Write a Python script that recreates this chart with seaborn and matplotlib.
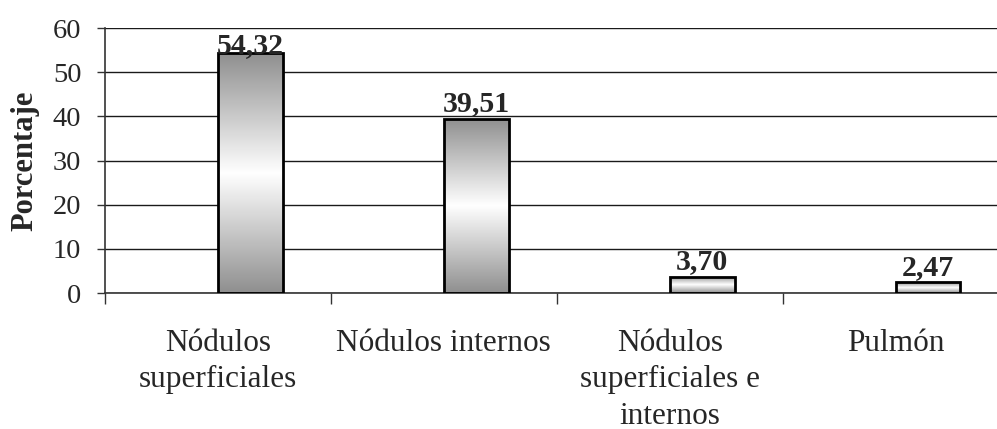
import numpy as np
import pandas as pd
import matplotlib
matplotlib.use("Agg")
import matplotlib.pyplot as plt
from matplotlib.colors import LinearSegmentedColormap
import seaborn as sns

categorias = ["Nódulos\nsuperficiales", "Nódulos internos",
              "Nódulos\nsuperficiales e\ninternos", "Pulmón"]
porcentajes = [54.32, 39.51, 3.70, 2.47]
y_ticks = [0, 10, 20, 30, 40, 50, 60]

sns.set_theme(style="white")
plt.rcParams["font.family"] = ["Liberation Serif", "DejaVu Serif"]

df = pd.DataFrame({"categoria": categorias, "porcentaje": porcentajes,
                   "serie": ["B"] * len(categorias)})

fig = plt.figure(figsize=(9.97, 4.29), dpi=100)
ax = fig.add_axes([0.1053, 0.317, 0.8947, 0.6177])

sns.barplot(data=df, x="categoria", y="porcentaje", hue="serie",
            hue_order=["A", "B"], order=categorias, dodge=True, width=0.574,
            palette={"A": "white", "B": "white"}, edgecolor="black",
            linewidth=2.0, legend=False, ax=ax, zorder=3)

ax.set_ylim(0, 60)
ax.set_xlim(-0.5, 3.449)
ax.set_yticks(y_ticks)
ax.set_yticklabels([str(t) for t in y_ticks], fontsize=20.5)

# gradient fill inside bars
cmap = LinearSegmentedColormap.from_list(
    "g", [(0.0, "#8f8f8f"), (0.5, "#ffffff"), (1.0, "#8f8f8f")])
grad = np.linspace(0, 1, 256).reshape(-1, 1)
bars = [p for p in ax.patches if p.get_height() > 0]
for p in bars:
    x0, y0 = p.get_x(), p.get_y()
    w, h = p.get_width(), p.get_height()
    im = ax.imshow(grad, cmap=cmap, aspect="auto",
                   extent=[x0, x0 + w, y0, y0 + h], zorder=2.5,
                   interpolation="bilinear")
    im.set_clip_path(p)
    p.set_facecolor("none")
ax.set_xlim(-0.5, 3.449)
ax.set_ylim(0, 60)

labels_txt = []
for cont in ax.containers:
    vals = [b.get_height() for b in cont]
    if all(np.isnan(v) or v == 0 for v in vals):
        continue
    labels_txt += ax.bar_label(cont, labels=[f"{v:.2f}".replace(".", ",") for v in vals],
                               padding=1, fontsize=21.5, fontweight="bold", zorder=5)

# grid
ax.grid(axis="y", color="#1a1a1a", linewidth=1.0, zorder=0)
ax.set_axisbelow(True)

# spines
for s in ["top", "right"]:
    ax.spines[s].set_visible(False)
for s in ["left", "bottom"]:
    ax.spines[s].set_color("#333333")
    ax.spines[s].set_linewidth(1.2)

# ticks
ax.tick_params(axis="y", which="major", left=True, length=6, width=1.0,
               color="#333333", pad=11, direction="out")
ax.tick_params(axis="x", which="major", length=0, pad=26, labelsize=22.5)
ax.set_xticks([-0.5, 0.5, 1.5, 2.5], minor=True)
ax.tick_params(axis="x", which="minor", bottom=True, length=8, width=1.0,
               color="#333333", direction="out")
for lbl in ax.get_xticklabels():
    lbl.set_linespacing(1.33)

ax.set_xlabel("")
ax.set_ylabel("Porcentaje", fontsize=22, fontweight="bold")
ax.yaxis.set_label_coords(-0.074, 0.5)

# keep value labels inside the plot area (as the original chart does)
fig.canvas.draw()
renderer = fig.canvas.get_renderer()
ax_top = ax.get_window_extent(renderer).y1
for t in labels_txt:
    bb = t.get_window_extent(renderer)
    if bb.y1 > ax_top:
        dy_pts = (bb.y1 - ax_top + 4) * 72 / fig.dpi
        ox, oy = t.xyann
        t.xyann = (ox, oy - dy_pts)

fig.savefig("out.png", dpi=100)
